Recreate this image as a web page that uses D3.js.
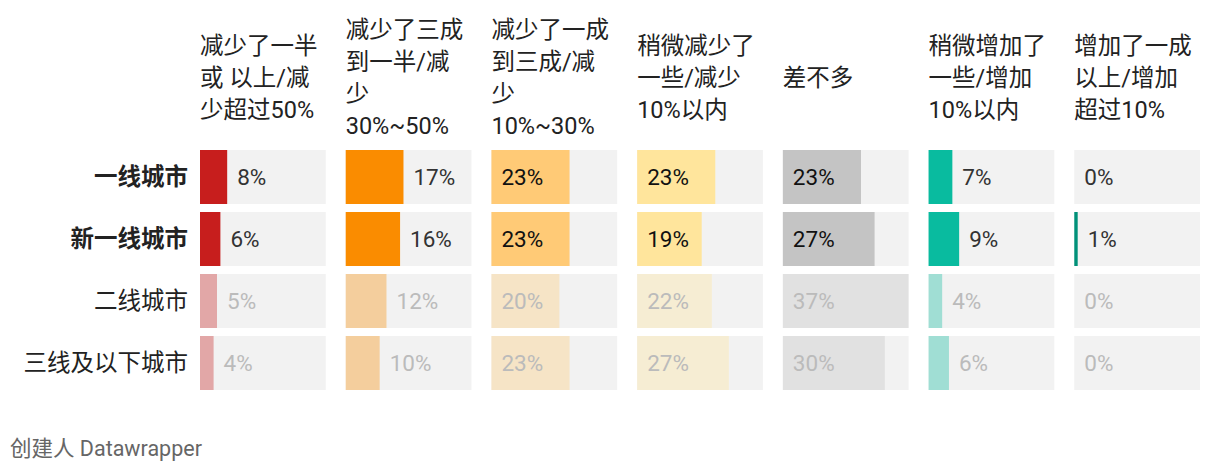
<!DOCTYPE html>
<html>
<head>
<meta charset="utf-8">
<script src="https://cdn.jsdelivr.net/npm/d3@7"></script>
<style>
  html, body { margin: 0; padding: 0; background: #fff; }
  svg text { font-family: Roboto, "Noto Sans CJK SC", sans-serif; }
</style>
</head>
<body>
<svg id="chart" width="1220" height="472"></svg>
<script>
const categories = ["一线城市", "新一线城市", "二线城市", "三线及以下城市"];
const highlighted = [true, true, false, false];
const columnLabels = [
  ["减少了一半", "或 以上/减", "少超过50%"],
  ["减少了三成", "到一半/减", "少", "30%~50%"],
  ["减少了一成", "到三成/减", "少", "10%~30%"],
  ["稍微减少了", "一些/减少", "10%以内"],
  ["差不多"],
  ["稍微增加了", "一些/增加", "10%以内"],
  ["增加了一成", "以上/增加", "超过10%"]
];
const decreaseHalf   = [8, 6, 5, 4];
const decrease30to50 = [17, 16, 12, 10];
const decrease10to30 = [23, 23, 20, 23];
const decreaseUnder10 = [23, 19, 22, 27];
const aboutSame      = [23, 27, 37, 30];
const increaseUnder10 = [7, 9, 4, 6];
const increaseOver10 = [0, 1, 0, 0];
const seriesValues = [decreaseHalf, decrease30to50, decrease10to30, decreaseUnder10, aboutSame, increaseUnder10, increaseOver10];
const columnColors = ["#c71e1d", "#fa8c00", "#ffca76", "#ffe59c", "#c4c4c4", "#09bb9f", "#009179"];
const footerText = "创建人 Datawrapper";

const svg = d3.select("#chart");
const left = 200, right = 1200;
const colX = d3.scaleBand().domain(d3.range(columnLabels.length)).range([left, right + 20]).paddingInner(0).paddingOuter(0);
const colW = colX.bandwidth() - 20;
const rowY = d3.scaleBand().domain(d3.range(categories.length)).range([150, 398]).paddingInner(0);
const rowH = rowY.bandwidth() - 8;
const maxVal = d3.max(seriesValues.flat());
const x = d3.scaleLinear().domain([0, maxVal]).range([0, colW]);

const valFs = 22.5;

// header labels
columnLabels.forEach((lines, ci) => {
  const lh = 32;
  const cy = 78;
  const top = cy - (lines.length - 1) * lh / 2;
  const t = svg.append("text")
    .attr("x", colX(ci))
    .attr("font-size", 23.5)
    .attr("fill", "#222");
  lines.forEach((ln, i) => {
    t.append("tspan").attr("x", colX(ci)).attr("y", top + i * lh).attr("dy", "0.35em").text(ln);
  });
});

// row labels
svg.selectAll("text.row").data(categories).join("text")
  .attr("class", "row")
  .attr("x", 188)
  .attr("y", (d, i) => rowY(i) + rowH / 2)
  .attr("dy", "0.35em")
  .attr("text-anchor", "end")
  .attr("font-size", 23.5)
  .attr("font-weight", (d, i) => highlighted[i] ? "bold" : "normal")
  .attr("fill", "#222")
  .text(d => d);

// cells
seriesValues.forEach((vals, ci) => {
  const g = svg.append("g").attr("transform", `translate(${colX(ci)},0)`);
  vals.forEach((v, ri) => {
    const y0 = rowY(ri);
    g.append("rect").attr("x", 0).attr("y", y0).attr("width", colW).attr("height", rowH).attr("fill", "#f2f2f2");
    g.append("rect").attr("x", 0).attr("y", y0).attr("width", x(v)).attr("height", rowH)
      .attr("fill", columnColors[ci]).attr("fill-opacity", highlighted[ri] ? 1 : 0.35);
    const inside = x(v) > 60;
    g.append("text")
      .attr("x", inside ? 10 : x(v) + 10)
      .attr("y", y0 + rowH / 2)
      .attr("dy", "0.35em")
      .attr("font-size", valFs)
      .attr("fill", highlighted[ri] ? (inside ? "#111" : "#333") : "#bbb")
      .text(v + "%");
  });
});

svg.append("text").attr("x", 10).attr("y", 448).attr("dy", "0.35em")
  .attr("font-size", 21.5).attr("fill", "#666").text(footerText);
</script>
</body>
</html>
